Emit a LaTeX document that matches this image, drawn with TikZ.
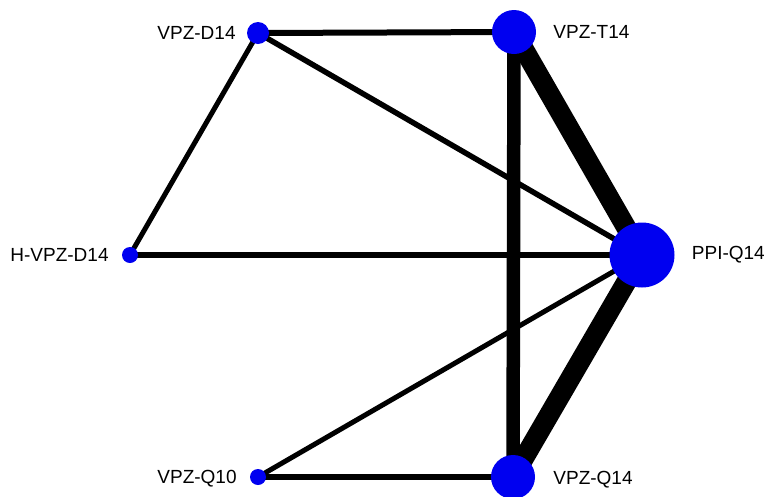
\documentclass[tikz,border=0pt]{standalone}
\usepackage{fontspec}
\setmainfont{Liberation Sans}
\usepackage{xcolor}
\usepackage{tikz}
\usetikzlibrary{positioning}
\definecolor{netblue}{RGB}{0,0,240}
\tikzset{
  trt/.style={circle, fill=netblue, draw=none, inner sep=0pt},
  lbl/.style={font=\fontsize{19}{22}\selectfont, inner sep=0pt},
  link/.style={line width=#1, draw=black}
}

\begin{document}
\begin{tikzpicture}[x=1pt, y=-1pt]
  \useasboundingbox (0,0) rectangle (764,496);
  % treatments
  \coordinate (cd) at (258,33);
  \coordinate (ct) at (514,32);
  \coordinate (ch) at (130,255);
  \coordinate (cp) at (642,255);
  \coordinate (cq) at (258,477);
  \coordinate (cr) at (513,477);
  % comparisons
  \draw[link=6pt] (cd) -- (ct);
  \draw[link=5.5pt] (cd) -- (cp);
  \draw[link=5pt] (cd) -- (ch);
  \draw[link=5.5pt] (ch) -- (cp);
  \draw[link=13.5pt] (ct) -- (cr);
  \draw[link=20pt] (ct) -- (cp);
  \draw[link=20pt] (cr) -- (cp);
  \draw[link=5pt] (cq) -- (cp);
  \draw[link=6pt] (cq) -- (cr);
  % nodes
  \node[trt, minimum size=22pt] (d14) at (cd) {};
  \node[trt, minimum size=44pt] (t14) at (ct) {};
  \node[trt, minimum size=16pt] (hd14) at (ch) {};
  \node[trt, minimum size=65pt] (ppi) at (cp) {};
  \node[trt, minimum size=16pt] (q10) at (cq) {};
  \node[trt, minimum size=44pt] (q14) at (cr) {};
  % labels
  \node[lbl, left=11pt of d14] {VPZ-D14};
  \node[lbl, right=17pt of t14] {VPZ-T14};
  \node[lbl, left=13pt of hd14] {H-VPZ-D14};
  \node[lbl, right=17pt of ppi] {PPI-Q14};
  \node[lbl, left=13pt of q10, yshift=-2pt] {VPZ-Q10};
  \node[lbl, right=18pt of q14, yshift=-3pt] {VPZ-Q14};
\end{tikzpicture}
\end{document}
